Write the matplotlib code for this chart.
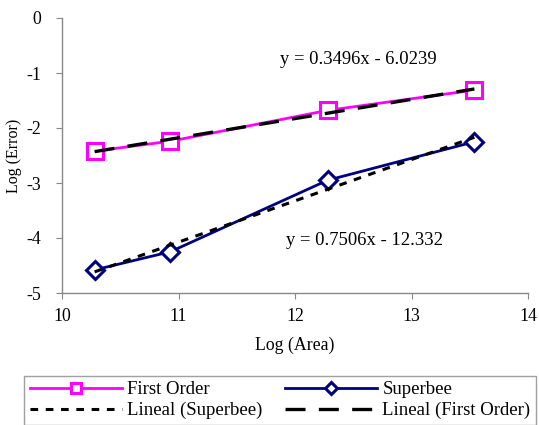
import numpy as np
import matplotlib
matplotlib.use("Agg")
import matplotlib.pyplot as plt

# Data
log_area = [10.28, 10.93, 12.28, 13.54]
first_order = [-2.42, -2.24, -1.68, -1.31]
superbee = [-4.58, -4.25, -2.95, -2.25]
fit_first = (0.3496, -6.0239)
fit_super = (0.7506, -12.332)
eq_first = "y = 0.3496x - 6.0239"
eq_super = "y = 0.7506x - 12.332"
x_ticks = [10, 11, 12, 13, 14]
y_ticks = [0, -1, -2, -3, -4, -5]

plt.rcParams['font.family'] = ['Liberation Serif', 'DejaVu Serif']

fig = plt.figure(figsize=(5.39, 4.25), dpi=100)
ax = fig.add_axes([62/539, 1-293/425, (528-62)/539, (293-18)/425])

xa = np.array(log_area)
l1, = ax.plot(xa, first_order, color='#FF00FF', lw=2, marker='s', ms=11,
              mfc='white', mec='#FF00FF', mew=2.2, label='First Order', zorder=3)
l2, = ax.plot(xa, superbee, color='#000080', lw=2, marker='D', ms=9,
              mfc='white', mec='#000080', mew=2.2, label='Superbee', zorder=3)
t2, = ax.plot(xa, fit_super[0]*xa + fit_super[1], color='black', lw=2.2,
              dashes=(2.5, 2.5), label='Lineal (Superbee)', zorder=4)
t1, = ax.plot(xa, fit_first[0]*xa + fit_first[1], color='black', lw=2.4,
              dashes=(6, 4), label='Lineal (First Order)', zorder=4)

ax.text(12.54, -0.76, eq_first, fontsize=13.4, ha='center', va='center')
ax.text(12.60, -4.04, eq_super, fontsize=13.4, ha='center', va='center')

ax.set_xlim(10, 14)
ax.set_ylim(-5, 0)
ax.set_xticks(x_ticks)
ax.set_yticks(y_ticks)
ax.set_yticklabels([str(v) for v in y_ticks])
for s in ['top', 'right']:
    ax.spines[s].set_visible(False)
for s in ['left', 'bottom']:
    ax.spines[s].set_color('#888888')
    ax.spines[s].set_linewidth(1)
ax.tick_params(colors='#888888', labelcolor='black', labelsize=12.8, length=4, direction='out')
ax.tick_params(axis='x', pad=7)
ax.tick_params(axis='y', pad=11)
ax.set_xlabel('Log (Area)', fontsize=12.8, labelpad=8)
fig.text(14/539, 1-156/425, 'Log (Error)', fontsize=11.5, rotation=90,
         ha='center', va='center')

leg = fig.legend(handles=[l1, t2, l2, t1], loc='lower left',
                 bbox_to_anchor=(24/539, 0/425, (536-24)/539, 51/425), mode='expand',
                 ncol=2, fontsize=13.5, frameon=True, fancybox=False,
                 edgecolor='#888888', handlelength=4.9, borderaxespad=0,
                 borderpad=0.3, labelspacing=0.2, handletextpad=0.3,
                 markerscale=0.65)
leg.get_frame().set_linewidth(1)

fig.savefig('out.png', dpi=100)
